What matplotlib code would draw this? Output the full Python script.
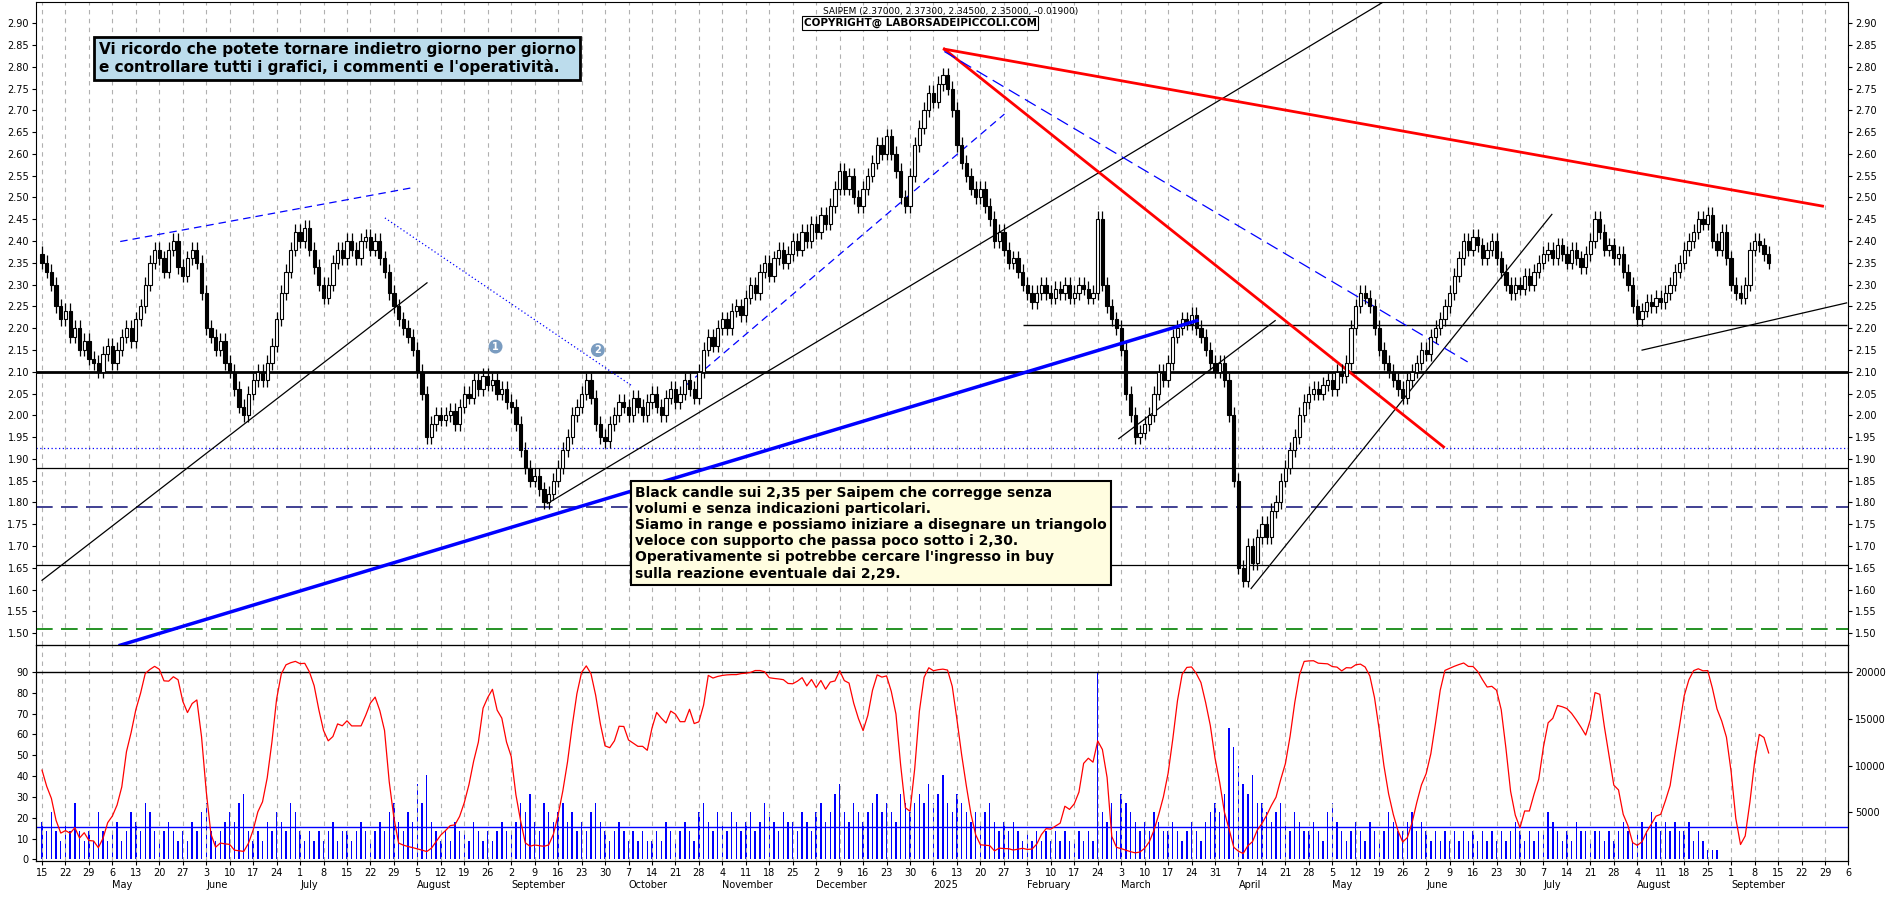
import matplotlib
matplotlib.use("Agg")
import matplotlib.pyplot as plt
import numpy as np
import pandas as pd

closes = [
2.35,2.33,2.30,2.25,2.22,2.24,2.18,2.20,2.15,2.17,
2.13,2.12,2.10,2.14,2.16,2.12,2.15,2.18,2.20,2.17,
2.22,2.25,2.30,2.35,2.38,2.36,2.33,2.38,2.40,2.34,
2.32,2.36,2.38,2.35,2.28,2.20,2.18,2.15,2.17,2.12,
2.10,2.06,2.02,2.00,2.05,2.08,2.10,2.08,2.12,2.16,
2.22,2.28,2.33,2.38,2.42,2.40,2.43,2.38,2.34,2.30,
2.27,2.30,2.35,2.38,2.36,2.40,2.38,2.36,2.40,2.41,
2.38,2.40,2.36,2.33,2.28,2.25,2.22,2.20,2.18,2.15,
2.10,2.05,1.95,1.98,2.00,1.99,2.00,2.01,1.98,2.02,
2.05,2.04,2.08,2.06,2.09,2.07,2.08,2.05,2.06,2.03,
2.02,1.98,1.92,1.88,1.85,1.86,1.83,1.80,1.82,1.85,
1.88,1.92,1.95,2.00,2.02,2.05,2.08,2.04,1.98,1.95,
1.94,1.98,2.00,2.03,2.02,2.00,2.04,2.02,2.00,2.03,
2.05,2.02,2.00,2.04,2.06,2.03,2.05,2.08,2.06,2.04,
2.10,2.15,2.18,2.16,2.20,2.22,2.20,2.24,2.25,2.23,
2.27,2.30,2.28,2.33,2.35,2.32,2.36,2.38,2.35,2.37,
2.40,2.38,2.42,2.40,2.44,2.42,2.46,2.44,2.48,2.52,
2.56,2.52,2.55,2.50,2.48,2.52,2.55,2.58,2.62,2.60,
2.64,2.60,2.56,2.50,2.48,2.55,2.62,2.66,2.70,2.74,
2.72,2.76,2.78,2.75,2.70,2.62,2.58,2.55,2.52,2.50,
2.52,2.48,2.45,2.40,2.42,2.38,2.35,2.36,2.33,2.30,
2.28,2.26,2.28,2.30,2.28,2.27,2.29,2.28,2.30,2.27,
2.28,2.30,2.29,2.27,2.28,2.45,2.30,2.25,2.22,2.20,
2.15,2.05,2.00,1.95,1.96,1.98,2.00,2.05,2.10,2.08,
2.12,2.18,2.20,2.22,2.21,2.23,2.20,2.18,2.15,2.12,
2.10,2.12,2.08,2.00,1.85,1.65,1.62,1.70,1.66,1.72,
1.75,1.72,1.78,1.80,1.85,1.88,1.92,1.95,2.00,2.03,
2.05,2.06,2.05,2.07,2.08,2.06,2.10,2.09,2.12,2.20,
2.25,2.28,2.27,2.25,2.20,2.15,2.12,2.10,2.08,2.06,
2.04,2.08,2.10,2.12,2.15,2.14,2.18,2.20,2.22,2.25,
2.28,2.32,2.36,2.40,2.38,2.41,2.39,2.36,2.38,2.40,
2.36,2.33,2.30,2.28,2.30,2.29,2.32,2.30,2.33,2.35,
2.37,2.38,2.36,2.39,2.37,2.35,2.38,2.36,2.34,2.37,
2.40,2.45,2.42,2.38,2.39,2.36,2.37,2.33,2.30,2.25,
2.22,2.24,2.26,2.25,2.27,2.26,2.28,2.30,2.33,2.35,
2.38,2.40,2.42,2.45,2.44,2.46,2.40,2.38,2.42,2.36,
2.30,2.28,2.27,2.30,2.38,2.40,2.39,2.37,2.35]

volumes = [  # thousands
4,3,5,3,2,4,3,6,3,2, 3,2,5,3,2,3,4,2,3,5, 4,3,6,5,3,2,3,4,3,2,
3,2,4,3,5,6,3,2,3,4, 5,4,6,7,3,2,3,2,4,3, 5,4,3,6,5,3,2,3,2,3,
2,3,4,2,3,3,2,3,4,3, 2,3,4,3,5,6,4,3,5,4, 8,6,9,4,3,2,3,2,4,3,
3,2,4,3,2,3,2,3,4,3, 3,4,6,5,7,4,3,6,5,4, 5,6,4,5,3,4,3,5,6,4,
3,2,3,4,3,2,3,2,3,2, 2,3,2,4,3,2,3,4,3,2, 5,6,4,3,5,4,3,5,4,3,
4,5,3,4,6,5,4,3,5,4, 4,3,5,4,3,5,6,4,5,7, 8,5,4,6,5,4,5,6,7,5,
6,5,4,7,6,5,6,7,6,8, 6,7,9,6,5,7,6,5,4,5, 4,5,6,4,3,4,3,4,3,2,
3,2,3,2,3,2,3,2,3,2, 2,3,2,3,2,20,5,4,6,3, 7,6,5,4,3,4,3,5,4,3,
3,4,3,2,3,4,3,2,4,5, 6,5,7,14,12,10,8,7,9,6, 6,5,4,5,6,4,3,5,4,3,
3,4,3,2,5,6,4,3,2,3, 4,3,2,4,3,2,3,5,4,3, 3,4,5,3,4,3,2,3,2,3,
2,3,2,3,2,3,2,3,2,3, 2,3,2,3,4,3,2,3,2,3, 3,5,4,3,2,3,2,4,3,3,
2,3,3,2,3,2,3,4,3,2, 3,4,3,5,4,3,4,3,4,3, 3,4,2,3,2,1,1,1,0]

months = ["May","June","July","August","September","October","November",
          "December","2025","February","March","April","May","June","July",
          "August","September"]

n = len(closes)
dates = pd.bdate_range("2024-04-15", periods=400)
opens = [closes[0] + 0.02] + closes[:-1]

fig = plt.figure(figsize=(18.9, 9.02), dpi=100)
ax = fig.add_axes([0.019, 0.285, 0.959, 0.713])
ai = fig.add_axes([0.019, 0.045, 0.959, 0.240], sharex=ax)
XL = (-1.3, 384.6)
ax.set_xlim(*XL)
ax.set_ylim(1.473, 2.949)
ai.set_ylim(-1, 103)

def P(y):
    return 2.90 - (y - 18) * 0.002709
def D(x):
    return (x - 35) / 3.9

mondays = [i for i in range(0, 390, 5)]
for a in (ax, ai):
    for m in mondays:
        a.axvline(m, color="#b0b0b0", lw=0.8, ls=(0, (4, 4)), zorder=0)

for i in range(n):
    o, c = opens[i], closes[i]
    hi, lo = max(o, c) + 0.018, min(o, c) - 0.015
    ax.vlines(i, lo, hi, color="black", lw=0.9, zorder=3)
    body = abs(c - o) if abs(c - o) > 0.003 else 0.003
    ax.bar(i, body, bottom=min(o, c), width=0.7,
           color="white" if c >= o else "black", edgecolor="black", lw=0.8, zorder=4)

ax.axhline(2.10, color="black", lw=2)
ax.hlines(P(274), D(850), XL[1], color="black", lw=1)
ax.axhline(P(378), color="blue", lw=0.9, ls=(0, (1, 2)))
ax.axhline(P(395), color="black", lw=0.9)
ax.axhline(P(428), color="#202080", lw=1.2, ls=(0, (10, 5)))
ax.axhline(P(477), color="black", lw=0.9)
ax.axhline(P(531), color="green", lw=1.2, ls=(0, (10, 5)))

def seg(x1, y1, x2, y2, **kw):
    ax.plot([D(x1), D(x2)], [P(y1), P(y2)], **kw)

seg(100, 545, 995, 270, color="blue", lw=2.5, zorder=5)
seg(35, 490, 355, 238, color="black", lw=0.9)
seg(455, 425, 1150, 0, color="black", lw=0.9)
seg(930, 370, 1060, 270, color="black", lw=0.9)
seg(1040, 497, 1290, 180, color="black", lw=0.9)
seg(1365, 295, 1535, 255, color="black", lw=0.9)
seg(785, 40, 1200, 377, color="red", lw=2)
seg(785, 40, 1515, 173, color="red", lw=2)
seg(785, 42, 1220, 305, color="blue", lw=0.9, ls=(0, (10, 5)))
seg(570, 325, 835, 95, color="blue", lw=0.9, ls=(0, (6, 4)))
seg(100, 203, 345, 157, color="blue", lw=0.9, ls=(0, (6, 4)))
seg(320, 183, 525, 325, color="blue", lw=0.9, ls=(0, (1, 2)))

for lab, (x, y) in (("1", (412, 292)), ("2", (497, 295))):
    ax.text(D(x), P(y), lab, ha="center", va="center", color="white", fontsize=7,
            fontweight="bold", bbox=dict(boxstyle="circle,pad=0.2", fc="#7a9cc0", ec="none"))

ax.text(D(82), P(48), "Vi ricordo che potete tornare indietro giorno per giorno\ne controllare tutti i grafici, i commenti e l'operatività.",
        fontsize=11, fontweight="bold", family="Liberation Sans Narrow", va="center", ha="left",
        bbox=dict(boxstyle="square,pad=0.3", fc="#bcdcec", ec="black", lw=2), zorder=10)
ax.text(D(528), P(450),
        "Black candle sui 2,35 per Saipem che corregge senza\nvolumi e senza indicazioni particolari.\n"
        "Siamo in range e possiamo iniziare a disegnare un triangolo\nveloce con supporto che passa poco sotto i 2,30.\n"
        "Operativamente si potrebbe cercare l'ingresso in buy\nsulla reazione eventuale dai 2,29.",
        fontsize=10, fontweight="bold", family="Liberation Sans Narrow", va="center", ha="left",
        linespacing=1.2, bbox=dict(boxstyle="square,pad=0.3", fc="#fffde0", ec="black", lw=1.5), zorder=10)
ax.text(D(790), P(8), "SAIPEM (2.37000, 2.37300, 2.34500, 2.35000, -0.01900)", fontsize=6.5,
        ha="center", va="center", family="Liberation Sans Narrow")
ax.text(D(765), P(18), "COPYRIGHT@ LABORSADEIPICCOLI.COM", fontsize=7.5, fontweight="bold",
        ha="center", va="center", family="Liberation Sans Narrow",
        bbox=dict(boxstyle="square,pad=0.15", fc="white", ec="black", lw=0.8))

yt = np.round(np.arange(1.50, 2.901, 0.05), 2)
ax.set_yticks(yt)
ax.set_yticklabels([f"{v:.2f}" for v in yt], fontsize=7)
ax.tick_params(axis="y", which="both", labelleft=True, labelright=True, left=True, right=True,
               length=3, pad=2)
ax.tick_params(axis="x", bottom=False, labelbottom=False)

cl = np.array(closes)
k = []
for i in range(n):
    w = cl[max(0, i - 13):i + 1]
    lo, hi = w.min() - 0.015, w.max() + 0.02
    k.append(100 * (cl[i] - lo) / (hi - lo))
k = pd.Series(k).rolling(3, min_periods=1).mean().values
ai2 = ai.twinx()
ai2.set_ylim(-1 * 20000 / 90, 103 * 20000 / 90)
ai2.bar(np.arange(len(volumes)), np.array(volumes) * 1000, width=0.3, color="blue", zorder=2)
ai2.axhline(3500, color="blue", lw=1)
ai.plot(np.arange(n), k, color="red", lw=0.9, zorder=5)
ai.set_zorder(ai2.get_zorder() + 1); ai.patch.set_visible(False)
ai.axhline(90, color="black", lw=1)
ai.set_yticks(range(0, 91, 10))
ai.tick_params(axis="y", labelsize=7, length=3, pad=2)
ai2.set_yticks([5000, 10000, 15000, 20000])
ai2.tick_params(axis="y", labelsize=7, length=3, pad=2)

ai.set_xticks(mondays)
ai.set_xticklabels([str(dates[m].day) for m in mondays], fontsize=7)
ai.tick_params(axis="x", length=3, pad=2)
prev = dates[0].month
mi = 0
for m in mondays:
    if dates[m].month != prev and mi < len(months):
        ai.text(m, -0.085, months[mi], transform=ai.get_xaxis_transform(), fontsize=7, ha="left", va="top")
        mi += 1
        prev = dates[m].month
fig.savefig("out.png", dpi=100, facecolor="white")
